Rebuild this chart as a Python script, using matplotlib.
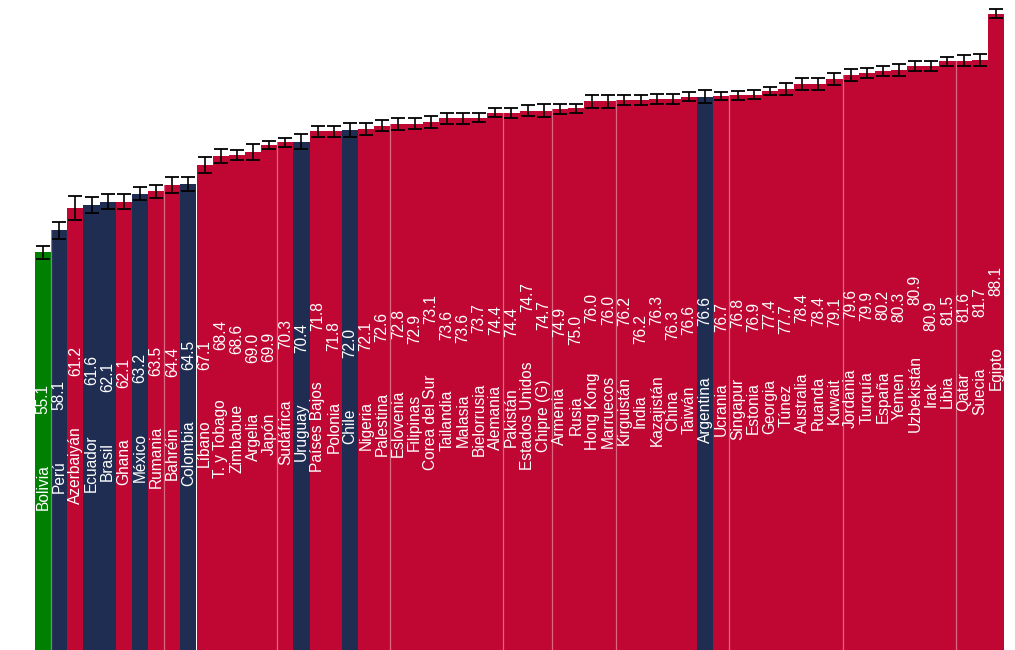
import matplotlib
matplotlib.use("Agg")
import matplotlib.pyplot as plt
import numpy as np

countries = [
    "Bolivia", "Perú", "Azerbaiyán", "Ecuador", "Brasil", "Ghana", "México",
    "Rumania", "Bahréin", "Colombia", "Líbano", "T. y Tobago", "Zimbabue",
    "Argelia", "Japón", "Sudáfrica", "Uruguay", "Países Bajos", "Polonia",
    "Chile", "Nigeria", "Palestina", "Eslovenia", "Filipinas", "Corea del Sur",
    "Tailandia", "Malasia", "Bielorrusia", "Alemania", "Pakistán",
    "Estados Unidos", "Chipre (G)", "Armenia", "Rusia", "Hong Kong",
    "Marruecos", "Kirguistán", "India", "Kazajistán", "China", "Taiwán",
    "Argentina", "Ucrania", "Singapur", "Estonia", "Georgia", "Túnez",
    "Australia", "Ruanda", "Kuwait", "Jordania", "Turquía", "España", "Yemen",
    "Uzbekistán", "Irak", "Libia", "Qatar", "Suecia", "Egipto",
]

values = [
    55.1, 58.1, 61.2, 61.6, 62.1, 62.1, 63.2, 63.5, 64.4, 64.5,
    67.1, 68.4, 68.6, 69.0, 69.9, 70.3, 70.4, 71.8, 71.8, 72.0,
    72.1, 72.6, 72.8, 72.9, 73.1, 73.6, 73.6, 73.7, 74.4, 74.4,
    74.7, 74.7, 74.9, 75.0, 76.0, 76.0, 76.2, 76.2, 76.3, 76.3,
    76.6, 76.6, 76.7, 76.8, 76.9, 77.4, 77.7, 78.4, 78.4, 79.1,
    79.6, 79.9, 80.2, 80.3, 80.9, 80.9, 81.5, 81.6, 81.7, 88.1,
]

errors = [
    0.9, 1.2, 1.65, 1.1, 1.05, 1.1, 0.95, 0.9, 1.1, 1.0,
    1.1, 1.0, 0.7, 1.1, 0.6, 0.6, 1.1, 0.75, 0.75, 1.0,
    0.85, 0.8, 0.8, 0.8, 0.8, 0.7, 0.7, 0.6, 0.6, 0.7,
    0.7, 0.9, 0.7, 0.6, 0.9, 0.9, 0.7, 0.7, 0.7, 0.7,
    0.6, 0.9, 0.6, 0.6, 0.6, 0.6, 0.8, 0.8, 0.8, 0.8,
    0.8, 0.7, 0.7, 0.8, 0.7, 0.7, 0.6, 0.8, 0.8, 0.6,
]

# Group of each country: highlighted country, Latin America, rest of the world
groups = [
    "focus", "latam", "other", "latam", "latam", "other", "latam", "other",
    "other", "latam", "other", "other", "other", "other", "other", "other",
    "latam", "other", "other", "latam", "other", "other", "other", "other",
    "other", "other", "other", "other", "other", "other", "other", "other",
    "other", "other", "other", "other", "other", "other", "other", "other",
    "other", "latam", "other", "other", "other", "other", "other", "other",
    "other", "other", "other", "other", "other", "other", "other", "other",
    "other", "other", "other", "other",
]

palette = {"focus": "#008000", "latam": "#1f2d53", "other": "#c00632"}
colors = [palette[g] for g in groups]

plt.rcParams["font.family"] = ["Liberation Sans", "DejaVu Sans"]
NAME_FONT = ["Liberation Sans", "DejaVu Sans"]
VALUE_FONT = ["Liberation Sans Narrow", "Liberation Sans", "DejaVu Sans"]
FONT_SIZE = 11.2
GAP_PX = 50      # space between country name and value
LIFT_PX = 4      # labels sit slightly above the bar's middle

fig = plt.figure(figsize=(10.15, 6.5), dpi=100)
ax = fig.add_axes([35 / 1015, 0, 969 / 1015, 1])

x = np.arange(len(countries))
ax.bar(x, values, width=1.0, color=colors, linewidth=0, zorder=1)

# faint guides between every seventh column
for k in [1, 8, 15, 22, 29, 32, 36, 43, 50, 57]:
    ax.axvline(k - 0.5, color="white", alpha=0.4, linewidth=0.9, zorder=2)

ax.errorbar(x, values, yerr=errors, fmt="none", ecolor="black",
            elinewidth=1.2, capsize=4.8, capthick=1.3, zorder=3)

ax.set_xlim(-0.5, len(countries) - 0.5)
ax.set_ylim(0, 90)
ax.axis("off")

# rotated labels: name then value, the pair centred in each bar
name_texts, value_texts = [], []
for xi, name, v in zip(x, countries, values):
    name_texts.append(ax.text(xi, 0, name, rotation=90, ha="center",
                              va="bottom", color="white", fontsize=FONT_SIZE,
                              family=NAME_FONT, zorder=4))
    value_texts.append(ax.text(xi, 0, f"{v:.1f}", rotation=90, ha="center",
                               va="top", color="white", fontsize=FONT_SIZE,
                               family=VALUE_FONT, zorder=4))

fig.canvas.draw()
renderer = fig.canvas.get_renderer()
px_per_unit = ax.transData.transform((0, 1))[1] - ax.transData.transform((0, 0))[1]
for tn, tv, v in zip(name_texts, value_texts, values):
    hn = tn.get_window_extent(renderer).height
    hv = tv.get_window_extent(renderer).height
    total = hn + GAP_PX + hv
    centre = v / 2 + LIFT_PX / px_per_unit
    tn.set_y(centre - total / 2 / px_per_unit)
    tv.set_y(centre + total / 2 / px_per_unit)

fig.savefig("out.png", dpi=100)
